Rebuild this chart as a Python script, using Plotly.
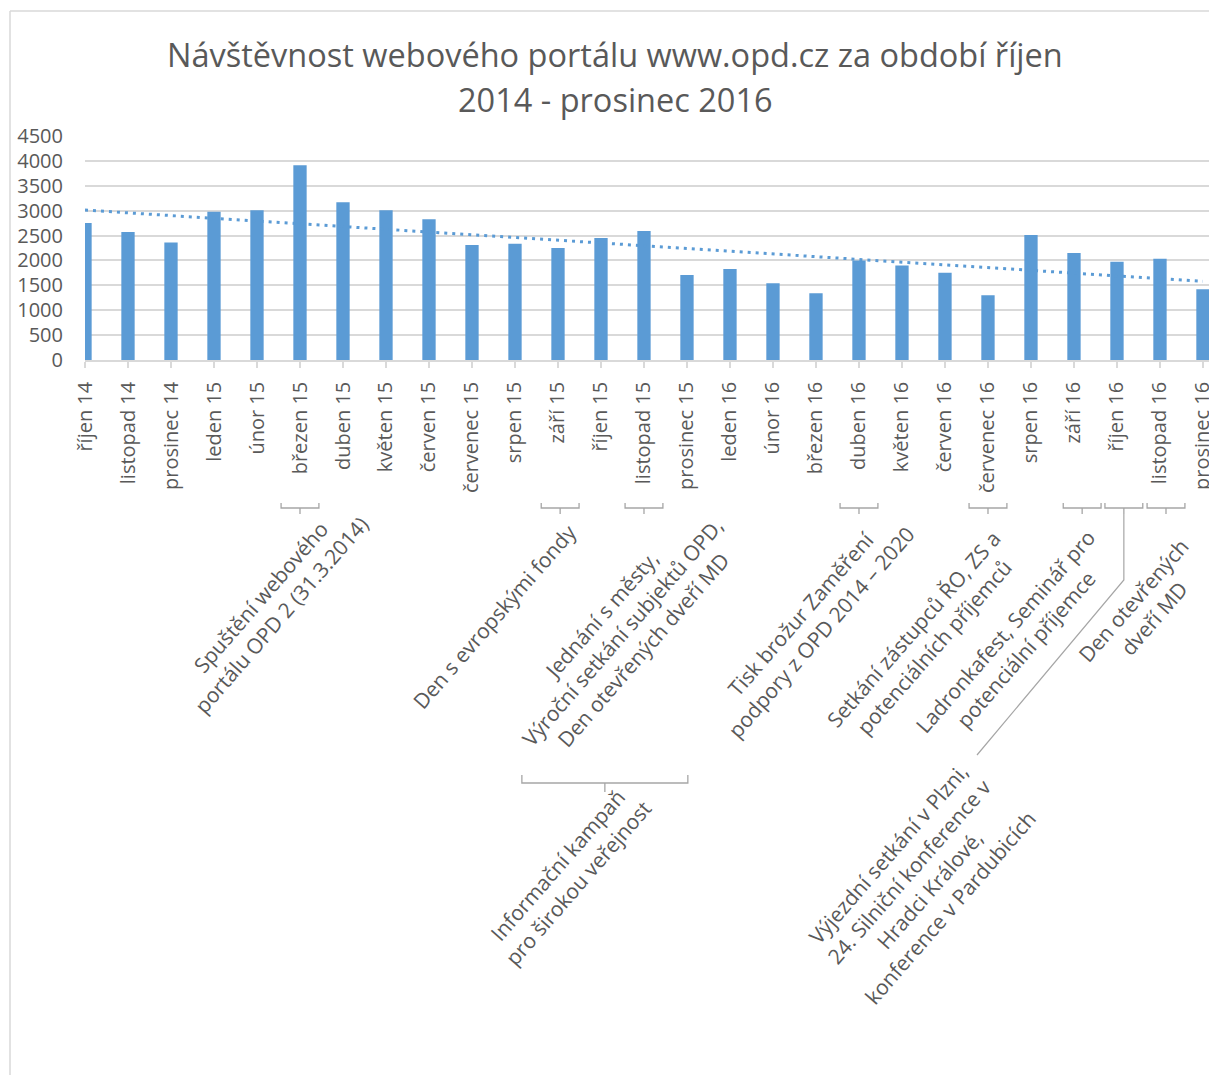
import numpy as np
import plotly.graph_objects as go

# ---- data ----
months = ["říjen 14", "listopad 14", "prosinec 14", "leden 15", "únor 15", "březen 15",
          "duben 15", "květen 15", "červen 15", "červenec 15", "srpen 15", "září 15",
          "říjen 15", "listopad 15", "prosinec 15", "leden 16", "únor 16", "březen 16",
          "duben 16", "květen 16", "červen 16", "červenec 16", "srpen 16", "září 16",
          "říjen 16", "listopad 16", "prosinec 16"]
visits = [2750, 2570, 2360, 2980, 3010, 3910, 3170, 3010, 2830, 2310, 2335, 2250,
          2450, 2590, 1710, 1830, 1540, 1340, 2000, 1900, 1755, 1300, 2510, 2150,
          1975, 2035, 1420]
y_ticks = [0, 500, 1000, 1500, 2000, 2500, 3000, 3500, 4000, 4500]

title_lines = ["Návštěvnost webového portálu www.opd.cz za období říjen",
               "2014 - prosinec 2016"]

# event notes: (text, bracket category index)
events = [
    ("Spuštění webového<br>portálu OPD 2 (31.3.2014)", 5),
    ("Den s evropskými fondy", 11),
    ("Jednání s městy,<br>Výroční setkání subjektů OPD,<br>Den otevřených dveří MD", 13),
    ("Tisk brožur Zaměření<br>podpory z OPD 2014 – 2020", 18),
    ("Setkání zástupců ŘO, ZS a<br>potenciálních příjemců", 21),
    ("Ladronkafest, Seminář pro<br>potenciální příjemce", 23),
    ("Výjezdní setkání v Plzni,<br>24. Silniční konference v<br>Hradci Králové,<br>konference v Pardubicích", 24),
    ("Den otevřených<br>dveří MD", 25),
]
campaign_text = "Informační kampaň<br>pro širokou veřejnost"
campaign_span = (10, 14)

# ---- layout geometry (page px; body margin removed by post_script) ----
W, H = 1209, 1075
PLOT_L, PLOT_R, PLOT_T, PLOT_B = 85, 1209, 136, 360   # plot area in page px
ML, MT = PLOT_L, PLOT_T
MR = W - PLOT_R
MB = H - PLOT_B
PW, PH = PLOT_R - PLOT_L, PLOT_B - PLOT_T
XR = [0, 26.14]
GRAY = "#595959"
LINE = "#D9D9D9"
BLUE = "#5B9BD5"
FONT = "Open Sans"


def px_x(p):
    return (p - PLOT_L) / PW


def px_y(p):
    return (PLOT_B - p) / PH


def cat_x(c):
    return (c - XR[0]) / (XR[1] - XR[0])


x = list(range(len(months)))
slope, intercept = np.polyfit(x, visits, 1)
trend_x = [x[0], x[-1]]
trend_y = [intercept + slope * v for v in trend_x]

fig = go.Figure()
fig.add_trace(go.Bar(x=x, y=visits, width=0.31, marker=dict(color=BLUE, line=dict(width=0)),
                     showlegend=False, hoverinfo="skip"))
fig.add_trace(go.Scatter(x=trend_x, y=trend_y, mode="lines",
                         line=dict(color=BLUE, width=3, dash="3px,5px"), showlegend=False,
                         hoverinfo="skip"))

shapes = []
annotations = []

# chart border (left & top)
shapes.append(dict(type="line", xref="paper", yref="paper", x0=px_x(10), x1=px_x(10),
                   y0=px_y(11), y1=px_y(H + 5), line=dict(color=LINE, width=1.5)))
shapes.append(dict(type="line", xref="paper", yref="paper", x0=px_x(10), x1=px_x(W + 5),
                   y0=px_y(11), y1=px_y(11), line=dict(color=LINE, width=1.5)))

# title
annotations.append(dict(text=title_lines[0], xref="paper", yref="paper", x=px_x(615), y=px_y(54),
                        xanchor="center", yanchor="middle", showarrow=False,
                        font=dict(family=FONT, size=32.5, color=GRAY)))
annotations.append(dict(text=title_lines[1], xref="paper", yref="paper", x=px_x(615), y=px_y(99),
                        xanchor="center", yanchor="middle", showarrow=False,
                        font=dict(family=FONT, size=32.5, color=GRAY)))


def bracket(c0, c1, ytop, ybot, ytick):
    xm = (c0 + c1) / 2
    path = (f"M {cat_x(c0)} {px_y(ytop)} L {cat_x(c0)} {px_y(ybot)} L {cat_x(c1)} {px_y(ybot)} "
            f"L {cat_x(c1)} {px_y(ytop)} M {cat_x(xm)} {px_y(ybot)} L {cat_x(xm)} {px_y(ytick)}")
    shapes.append(dict(type="path", xref="paper", yref="paper", path=path,
                       line=dict(color="#A6A6A6", width=1.3)))


# small brackets under month labels
bracket_shift = {23: 0.19, 24: 0.16, 25: 0.14, 11: 0.05}
text_pos = {  # label block centres (page px)
    5: (270, 606), 11: (494, 617), 13: (622, 632), 18: (810, 623),
    21: (923, 638), 23: (1015, 640), 24: (919, 881), 25: (1143, 609),
}
for text, c in events:
    cc = c + bracket_shift.get(c, 0)
    bracket(cc - 0.44, cc + 0.44, 503, 508, 514)
    tx, ty = text_pos[c]
    annotations.append(dict(text=text, xref="paper", yref="paper", x=px_x(tx), y=px_y(ty),
                            xanchor="center", yanchor="middle", showarrow=False,
                            textangle=-49, align="center",
                            font=dict(family=FONT, size=21, color=GRAY)))
    if c == 24:
        shapes.append(dict(type="path", xref="paper", yref="paper",
                           path=f"M {cat_x(cc)} {px_y(514)} L {cat_x(cc)} {px_y(580)} L {px_x(977)} {px_y(755)}",
                           line=dict(color="#A6A6A6", width=1.2)))

# campaign bracket
bracket(campaign_span[0] + 0.16, campaign_span[1] + 0.02, 775, 783, 792)
annotations.append(dict(text=campaign_text, xref="paper", yref="paper", x=px_x(567), y=px_y(874),
                        xanchor="center", yanchor="middle", showarrow=False,
                        textangle=-49, align="center",
                        font=dict(family=FONT, size=21, color=GRAY)))

fig.update_layout(
    width=W, height=H,
    margin=dict(l=ML, r=MR, t=MT, b=MB, pad=0, autoexpand=False),
    paper_bgcolor="white", plot_bgcolor="white",
    font=dict(family=FONT, color=GRAY),
    shapes=shapes, annotations=annotations,
    hovermode=False,
    xaxis=dict(range=XR, tickmode="array", tickvals=x, ticktext=months, tickangle=-90,
               tickfont=dict(size=20, color=GRAY), ticks="outside", ticklen=6,
               tickcolor=LINE, tickwidth=1.5, showline=True, linecolor=LINE, linewidth=1.5,
               showgrid=False, zeroline=False, ticklabelstandoff=6, ticklabeloverflow="allow",
               automargin=False, fixedrange=True),
    yaxis=dict(range=[0, 4500], tickmode="array", tickvals=y_ticks,
               tickfont=dict(size=20, color=GRAY), showgrid=True, gridcolor=LINE, gridwidth=1.5,
               zeroline=False, showline=False, ticks="", ticklabelstandoff=21,
               automargin=False, fixedrange=True),
)

fig.write_html("out.html", config={"displayModeBar": False},
               post_script="document.body.style.margin='0';document.body.style.overflow='hidden';")
